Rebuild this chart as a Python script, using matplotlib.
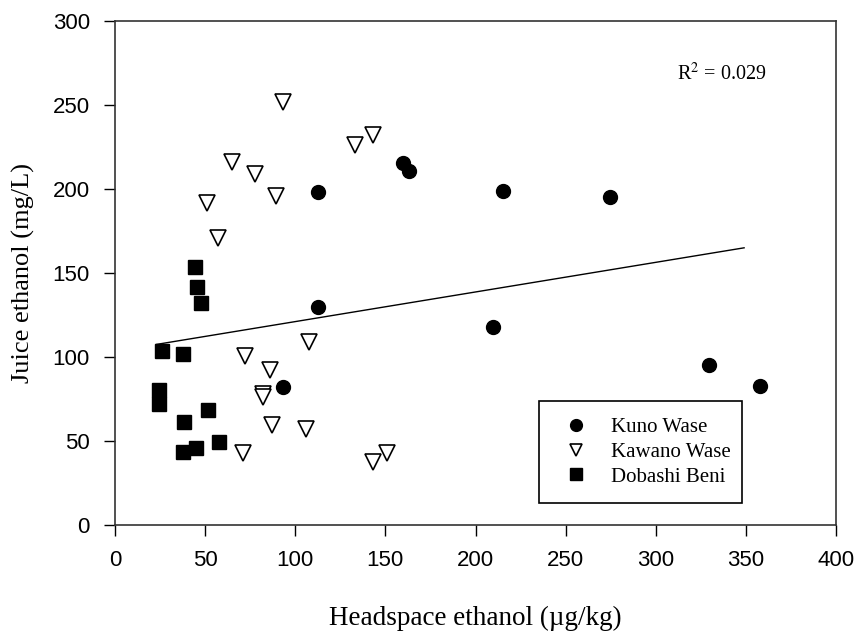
import numpy as np
import matplotlib
matplotlib.use("Agg")
import matplotlib.pyplot as plt

# values
kuno_x = [112.6, 160, 163, 215, 274.6, 112.6, 209.7, 93, 329.5, 358]
kuno_y = [198, 215.5, 211, 199, 195, 130, 118, 82, 95, 83]

kawano_x = [93.4, 133, 143, 65, 77.7, 89.4, 51, 57, 107.6, 72, 86, 82, 82, 87, 106, 71, 143, 150.7]
kawano_y = [252, 226, 232, 216, 209, 196, 191.6, 171, 109, 100.6, 92, 78, 76.4, 59.5, 57, 43, 37.7, 43]

dobashi_x = [44.4, 45.7, 47.5, 26.3, 37.9, 24.2, 24.6, 38.3, 51.4, 57.7, 44.8, 37.9]
dobashi_y = [153.8, 141.9, 132.3, 103.6, 102, 80.4, 72, 61.3, 68.5, 49.2, 45.6, 43.5]

# regression line end points
fit_x = [23, 349]
fit_y = [107.5, 165]
r2_text = "R$^2$ = 0.029"

xticks = [0, 50, 100, 150, 200, 250, 300, 350, 400]
yticks = [0, 50, 100, 150, 200, 250, 300]

serif = "Liberation Serif"
sans = "Liberation Sans"

fig = plt.figure(figsize=(8.58, 6.37), dpi=100)
ax = fig.add_axes([0.134, 0.1758, 0.8404, 0.7912])

ax.plot(fit_x, fit_y, color="black", lw=1.0, zorder=1)
ax.plot(kuno_x, kuno_y, "o", ms=10, color="black", mec="black", label="Kuno Wase", zorder=3)
ax.plot(kawano_x, kawano_y, "v", ms=11, mfc="white", mec="black", mew=1.2, label="Kawano Wase", zorder=2)
ax.plot(dobashi_x, dobashi_y, "s", ms=9.5, color="black", mec="black", label="Dobashi Beni", zorder=3)

ax.set_xlim(0, 400)
ax.set_ylim(0, 300)
ax.set_xticks(xticks)
ax.set_yticks(yticks)
ax.tick_params(direction="out", length=8, width=1, labelsize=16, pad=10)
for lab in ax.get_xticklabels() + ax.get_yticklabels():
    lab.set_fontfamily(sans)
for s in ax.spines.values():
    s.set_linewidth(1.2)
    s.set_color("#333333")

ax.set_xlabel("Headspace ethanol (\u00b5g/kg)", fontsize=19.5, family=serif, labelpad=25)
ax.set_ylabel("Juice ethanol (mg/L)", fontsize=19, family=serif, labelpad=13)

ax.text(0.904, 0.895, r2_text, transform=ax.transAxes, ha="right", va="center",
        fontsize=14.5, family=serif, math_fontfamily="stix")

leg = ax.legend(loc="lower left", bbox_to_anchor=(0.588, 0.0437, 0.282, 0.2), mode="expand",
                fancybox=False, edgecolor="black", framealpha=1, markerscale=0.85,
                prop={"family": serif, "size": 15}, handletextpad=0.67, labelspacing=0.25,
                borderpad=0.78, handlelength=2.0, borderaxespad=0)
leg.get_frame().set_linewidth(1.2)

fig.savefig("out.png", dpi=100)
